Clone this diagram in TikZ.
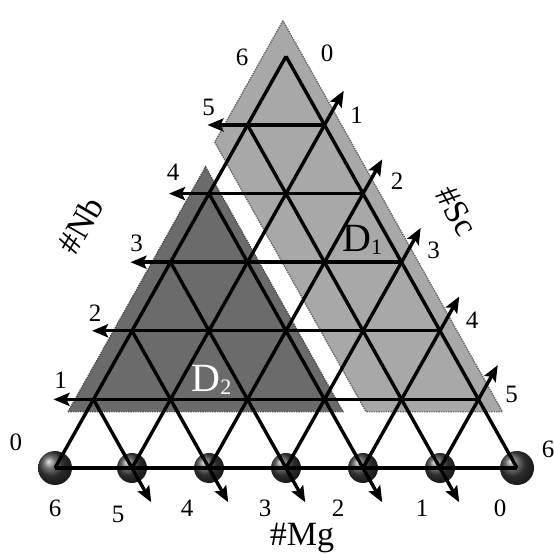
\documentclass[tikz,border=0pt]{standalone}
\usepackage{fontspec}
\setmainfont{Liberation Serif}
\usetikzlibrary{arrows.meta,calc}
\definecolor{lightreg}{gray}{0.66}
\definecolor{darkreg}{gray}{0.42}
\newcommand{\dsub}[1]{\raisebox{-3pt}{\fontsize{22}{24}\selectfont #1}}
\tikzset{
  gridln/.style={line width=3.4pt, black},
  arr/.style={gridln, -{Stealth[length=16pt,width=13pt,inset=3pt]}},
  regl/.style={fill=lightreg, draw=black!60, densely dotted, line width=1.4pt},
  regd/.style={fill=darkreg, draw=black!70, densely dotted, line width=1.4pt},
  num/.style={font=\fontsize{25}{27}\selectfont, inner sep=0pt},
  axlab/.style={font=\fontsize{34}{38}\selectfont, inner sep=0pt},
  dlab/.style={font=\fontsize{40}{44}\selectfont, inner sep=0pt},
  site/.style={circle, shading=ball, ball color=black!75, minimum size=30pt, inner sep=0pt},
}

\begin{document}
\begin{tikzpicture}[x={(77pt,0pt)}, y={(38.5pt,68.6pt)}]
\useasboundingbox ([shift={(-55pt,-86pt)}]0,0) rectangle ([shift={(499pt,468pt)}]0,0);
% lattice points p<i><j>
\foreach \j in {0,...,6}{
  \pgfmathtruncatemacro\m{6-\j}
  \foreach \i in {0,...,\m}{ \coordinate (p\i\j) at (\i,\j); }
}
% domains
\draw[regl] (-0.3,6.52) -- (-0.3,4.75) -- (3.63,0.82) -- (5.4,0.82) -- cycle;
\draw[regd] (-0.24,0.82) -- (3.33,0.82) -- (-0.24,4.39) -- cycle;
% sites on the #Mg axis
\foreach \i in {1,...,5}{ \node[site] (ball\i) at (p\i0) {}; }
\node[site, minimum size=34pt] (ball0) at (p00) {};
\node[site, minimum size=34pt] (ball6) at (p60) {};
% grid
\draw[gridln] (p00) -- (p60);
\draw[gridln] (p00) -- (p06);
\draw[gridln] (p60) -- (p06);
\foreach \j in {1,...,5}{
  \pgfmathtruncatemacro\m{6-\j}
  \draw[arr] (p\m\j) -- ($(p0\j)+(-0.52,0)$);
}
\foreach \i in {1,...,5}{
  \pgfmathtruncatemacro\m{6-\i}
  \draw[arr] (p\i0) -- ($(p\i\m)+(0,0.5)$);
  \draw[arr] (p0\i) -- ($(p\i0)+(0.5,-0.5)$);
}
% #Nb values
\foreach \j/\dx/\dy in {0/-39pt/26pt, 1/-33pt/19pt, 2/-37pt/18pt, 3/-34pt/19pt, 4/-36pt/21pt, 5/-39pt/18pt, 6/-44pt/-1pt}{
  \node[num] (nb\j) at ($(p0\j)+(\dx,\dy)$) {\j};
}
% #Sc values
\foreach \k/\j/\dx/\dy in {0/6/41pt/3pt, 1/5/32pt/10pt, 2/4/34pt/12pt, 3/3/32pt/12pt, 4/2/32pt/11pt, 5/1/33pt/5pt, 6/0/31pt/19pt}{
  \node[num] (sc\k) at ($(p\k\j)+(\dx,\dy)$) {\k};
}
% #Mg values
\foreach \i/\v/\dx/\dy in {0/6/0pt/-40pt, 1/5/-14pt/-46pt, 2/4/-22pt/-40pt, 3/3/-21pt/-40pt, 4/2/-25pt/-40pt, 5/1/-18pt/-40pt, 6/0/-17pt/-40pt}{
  \node[num] (mg\v) at ($(p\i0)+(\dx,\dy)$) {\v};
}
\node[axlab, rotate=60] (nblab) at ($(p03)+(-90pt,37pt)$) {\#Nb};
\node[axlab, rotate=-60] (sclab) at ($(p33)+(55pt,51pt)$) {\#Sc};
\node[axlab, anchor=base] (mglab) at ($(p30)+(16pt,-77pt)$) {\#Mg};
\node[dlab] (d1) at (2.33,3.32) {D\dsub{1}};
\node[dlab, white] (d2) at (1.39,1.28) {D\dsub{2}};
\end{tikzpicture}
\end{document}
